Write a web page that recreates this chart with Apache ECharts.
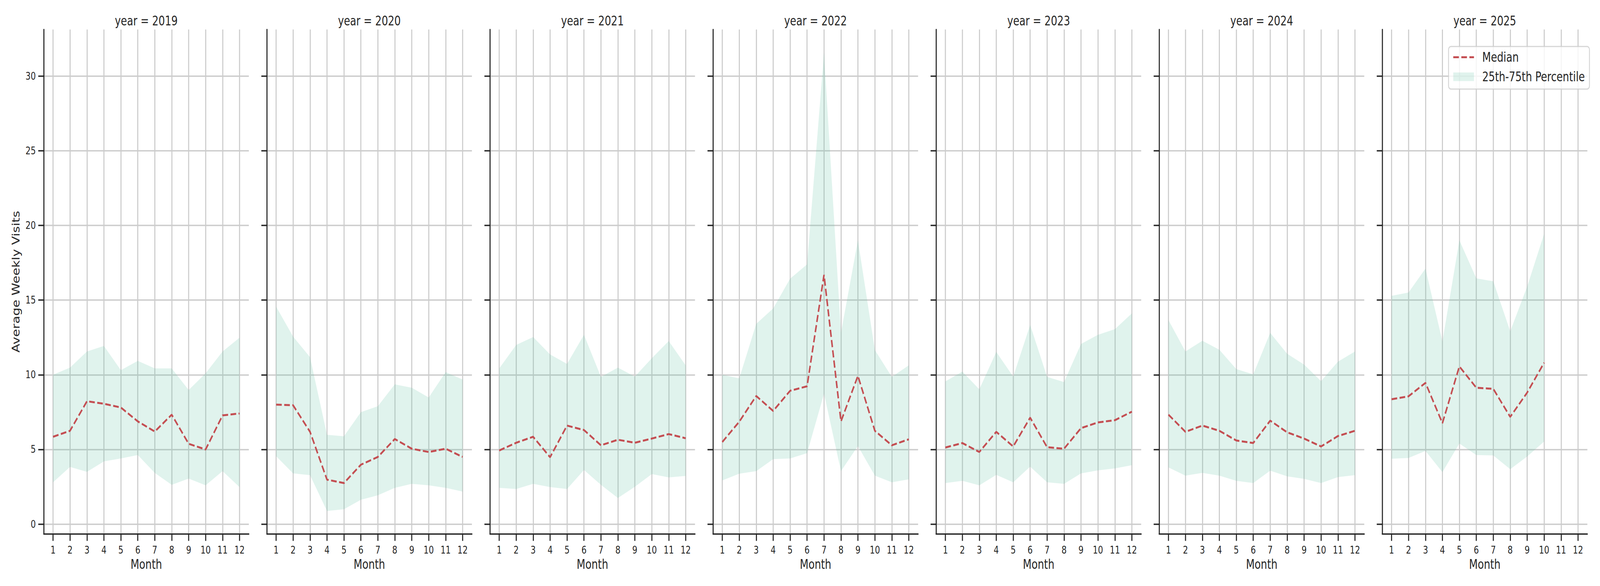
<!DOCTYPE html>
<html>
<head>
<meta charset="utf-8">
<script src="https://cdn.jsdelivr.net/npm/echarts@6/dist/echarts.min.js"></script>
<style>html,body{margin:0;padding:0;background:#fff;overflow:hidden}#c{width:5250px;height:1500px;transform-origin:0 0}</style>
</head>
<body>
<div id="c"></div>
<script>
// ---------------- DATA ----------------
const years = [2019, 2020, 2021, 2022, 2023, 2024, 2025];
const months = [1, 2, 3, 4, 5, 6, 7, 8, 9, 10, 11, 12];
const yTicks = [0, 5, 10, 15, 20, 25, 30];

const median2019 = [5.85, 6.25, 8.23, 8.06, 7.81, 6.88, 6.2, 7.33, 5.38, 5.0, 7.28, 7.41];
const p75_2019   = [10.0, 10.48, 11.56, 11.93, 10.31, 10.93, 10.43, 10.43, 8.98, 10.1, 11.56, 12.48];
const p25_2019   = [2.8, 3.83, 3.5, 4.2, 4.4, 4.63, 3.43, 2.63, 3.05, 2.6, 3.55, 2.48];

const median2020 = [8.0, 7.96, 6.18, 2.98, 2.75, 3.98, 4.5, 5.7, 5.05, 4.83, 5.05, 4.5];
const p75_2020   = [14.56, 12.56, 11.18, 5.98, 5.88, 7.5, 7.9, 9.36, 9.13, 8.48, 10.18, 9.68];
const p25_2020   = [4.55, 3.4, 3.28, 0.88, 1.0, 1.63, 1.93, 2.43, 2.7, 2.6, 2.43, 2.18];

const median2021 = [4.93, 5.45, 5.85, 4.48, 6.6, 6.3, 5.28, 5.65, 5.45, 5.73, 6.03, 5.75];
const p75_2021   = [10.43, 12.0, 12.53, 11.36, 10.73, 12.68, 9.86, 10.48, 9.88, 11.11, 12.26, 10.63];
const p25_2021   = [2.43, 2.35, 2.7, 2.48, 2.35, 3.63, 2.63, 1.75, 2.5, 3.35, 3.13, 3.23];

const median2022 = [5.5, 6.86, 8.58, 7.58, 8.93, 9.23, 16.69, 6.88, 9.93, 6.25, 5.28, 5.68];
const p75_2022   = [10.0, 9.76, 13.41, 14.44, 16.44, 17.39, 31.57, 12.81, 19.01, 11.66, 9.86, 10.63];
const p25_2022   = [2.93, 3.38, 3.55, 4.35, 4.4, 4.75, 8.73, 3.55, 5.23, 3.25, 2.8, 3.0];

const median2023 = [5.13, 5.43, 4.83, 6.18, 5.2, 7.13, 5.15, 5.05, 6.43, 6.81, 6.96, 7.53];
const p75_2023   = [9.56, 10.21, 9.03, 11.53, 9.88, 13.34, 9.86, 9.51, 12.06, 12.68, 13.06, 14.11];
const p25_2023   = [2.75, 2.9, 2.6, 3.3, 2.8, 3.85, 2.8, 2.7, 3.4, 3.6, 3.73, 3.95];

const median2024 = [7.33, 6.18, 6.6, 6.25, 5.6, 5.43, 6.93, 6.15, 5.73, 5.2, 5.9, 6.25];
const p75_2024   = [13.66, 11.56, 12.28, 11.68, 10.38, 10.03, 12.81, 11.41, 10.68, 9.58, 10.88, 11.56];
const p25_2024   = [3.8, 3.25, 3.43, 3.25, 2.9, 2.75, 3.58, 3.2, 3.03, 2.75, 3.15, 3.28];

const median2025 = [8.36, 8.56, 9.46, 6.76, 10.56, 9.13, 9.06, 7.18, 8.81, 10.81];
const p75_2025   = [15.29, 15.51, 17.11, 12.23, 19.01, 16.46, 16.26, 12.91, 15.91, 19.44];
const p25_2025   = [4.38, 4.43, 4.9, 3.48, 5.4, 4.63, 4.6, 3.68, 4.53, 5.53];

const medians = [median2019, median2020, median2021, median2022, median2023, median2024, median2025];
const uppers  = [p75_2019, p75_2020, p75_2021, p75_2022, p75_2023, p75_2024, p75_2025];
const lowers  = [p25_2019, p25_2020, p25_2021, p25_2022, p25_2023, p25_2024, p25_2025];

// ---------------- STYLE ----------------
const FONT = 'DejaVu Sans';
const TEXT = '#262626';
const GRIDC = '#cccccc';
const MEDIAN_COLOR = '#c44e52';
const BAND_FILL = 'rgba(102,194,165,0.2)';
const PANEL_LEFT0 = 143.5, PANEL_STEP = 732, PANEL_W = 673, PANEL_TOP = 75.5, PANEL_H = 1291;
const FULL_W = 5250, FULL_H = 1500;

// Fit the 5250x1500 drawing into the actual viewport (no-op when the viewport is 5250x1500).
const el = document.getElementById('c');
const vw = window.innerWidth || FULL_W, vh = window.innerHeight || FULL_H;
const sx = Math.min(1, vw / FULL_W), sy = Math.min(1, vh / FULL_H);
if (sx !== 1 || sy !== 1) el.style.transform = 'scale(' + sx + ',' + sy + ')';

const chart = echarts.init(el, null, {renderer: 'svg', width: FULL_W, height: FULL_H});

const grids = [], xAxes = [], yAxes = [], series = [], titles = [];

function bandRenderer(lower, upper) {
  return function (params, api) {
    if (params.dataIndex !== 0) return null;
    const pts = [];
    for (let i = 0; i < upper.length; i++) pts.push(api.coord([months[i], upper[i]]));
    for (let i = lower.length - 1; i >= 0; i--) pts.push(api.coord([months[i], lower[i]]));
    return {type: 'polygon', shape: {points: pts}, style: {fill: BAND_FILL}, z2: 1};
  };
}

years.forEach((yr, k) => {
  const left = PANEL_LEFT0 + PANEL_STEP * k;
  grids.push({left: left, top: PANEL_TOP, width: PANEL_W, height: PANEL_H, containLabel: false});
  titles.push({
    text: 'year = ' + yr, left: left + PANEL_W / 2, top: 54,
    textAlign: 'center', textVerticalAlign: 'middle', padding: 0,
    textStyle: {fontFamily: FONT, fontSize: 33, fontWeight: 'normal', color: TEXT}
  });
  xAxes.push({
    type: 'value', gridIndex: k, min: 0.45, max: 12.55,
    name: 'Month', nameLocation: 'middle', nameGap: 62,
    nameTextStyle: {fontFamily: FONT, fontSize: 33, color: TEXT},
    axisLine: {show: true, onZero: false, lineStyle: {color: TEXT, width: 3.5}},
    axisTick: {show: true, customValues: months, length: 18, lineStyle: {color: TEXT, width: 3.5}},
    axisLabel: {show: true, customValues: months, margin: 28, fontFamily: FONT, fontSize: 26.5, color: TEXT},
    splitLine: {show: true, lineStyle: {color: GRIDC, width: 3.5}}
  });
  yAxes.push({
    type: 'value', gridIndex: k, min: -0.65, max: 33.12,
    name: k === 0 ? 'Average Weekly Visits' : '', nameLocation: 'middle', nameGap: 74, nameRotate: 90,
    nameTextStyle: {fontFamily: FONT, fontSize: 33, color: TEXT},
    axisLine: {show: true, onZero: false, lineStyle: {color: TEXT, width: 3.5}},
    axisTick: {show: true, customValues: yTicks, length: 18, lineStyle: {color: TEXT, width: 3.5}},
    axisLabel: {show: k === 0, customValues: yTicks, margin: 26, fontFamily: FONT, fontSize: 26.5, color: TEXT},
    splitLine: {show: true, lineStyle: {color: GRIDC, width: 3.5}}
  });
  const lo = lowers[k], up = uppers[k], med = medians[k];
  series.push({
    type: 'custom', name: '25th-75th Percentile', xAxisIndex: k, yAxisIndex: k,
    data: lo.map((v, i) => [months[i], v, up[i]]),
    encode: {x: 0, y: [1, 2]},
    renderItem: bandRenderer(lo, up), z: 2, silent: true,
    itemStyle: {color: BAND_FILL}
  });
  series.push({
    type: 'line', name: 'Median', xAxisIndex: k, yAxisIndex: k,
    data: med.map((v, i) => [months[i], v]),
    symbol: 'none', showSymbol: false, z: 3, silent: true,
    lineStyle: {color: MEDIAN_COLOR, width: 5, type: [18.5, 8], cap: 'butt'},
    itemStyle: {color: MEDIAN_COLOR}
  });
});

chart.setOption({
  animation: false,
  backgroundColor: '#ffffff',
  textStyle: {fontFamily: FONT},
  title: titles,
  grid: grids,
  xAxis: xAxes,
  yAxis: yAxes,
  series: series,
  legend: {
    orient: 'vertical', left: 4753, top: 119,
    padding: [11, 15, 15, 13], itemGap: 17, itemWidth: 68, itemHeight: 22,
    backgroundColor: 'rgba(255,255,255,0.8)', borderColor: 'rgba(204,204,204,0.8)',
    borderWidth: 3, borderRadius: 8,
    textStyle: {fontFamily: FONT, fontSize: 33, color: TEXT, padding: [0, 0, 0, 22]},
    selectedMode: false,
    data: [
      {name: 'Median', itemStyle: {color: 'rgba(0,0,0,0)', borderWidth: 0},
       lineStyle: {color: MEDIAN_COLOR, width: 5, type: [18.5, 8]}},
      {name: '25th-75th Percentile', icon: 'rect', itemStyle: {color: BAND_FILL, borderWidth: 0}}
    ]
  }
});
</script>
</body>
</html>
